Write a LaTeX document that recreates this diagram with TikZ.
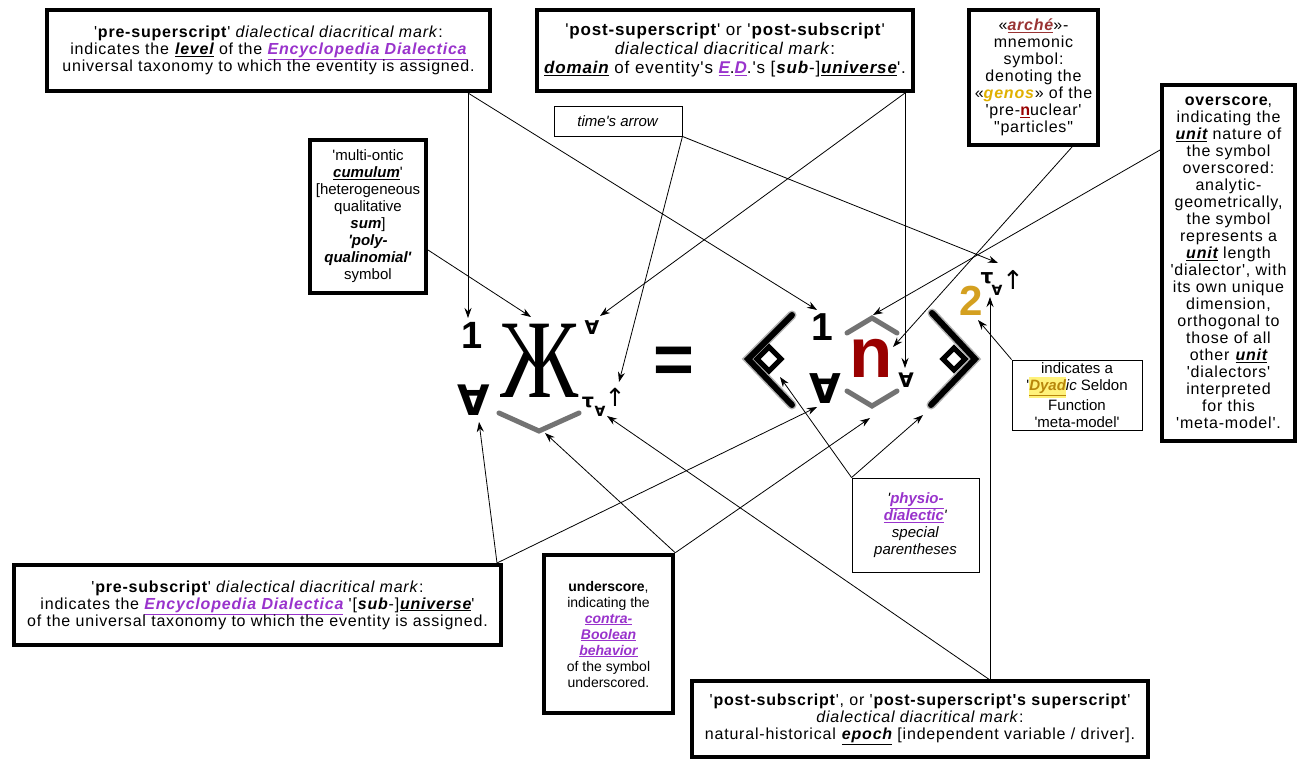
\documentclass[tikz,border=0pt]{standalone}
\usepackage{fontspec}
\setmainfont{Liberation Sans}[Ligatures=TeXOff]
\newfontfamily\zhefont{Liberation Serif}
\newfontfamily\symfont{DejaVu Sans}
\usetikzlibrary{arrows.meta}
\definecolor{dialpurple}{HTML}{9933CC}
\definecolor{nred}{HTML}{990000}
\definecolor{twogold}{HTML}{D4A020}
\definecolor{archered}{HTML}{993333}
\definecolor{genosgold}{HTML}{E0B000}
\definecolor{dyadgold}{HTML}{B8860B}
\definecolor{dyadlight}{HTML}{FFF27A}
\newcommand{\bu}[1]{\textbf{\textit{\underline{#1}}}}
\newcommand{\bi}[1]{\textbf{\textit{#1}}}
\newcommand{\pbu}[1]{\textcolor{dialpurple}{\bu{#1}}}

\begin{document}
\begin{tikzpicture}[x=1pt, y=-1pt,
    bigbox/.style={draw, line width=4.5pt, fill=white, align=center, inner sep=0pt},
    thinbox/.style={draw, line width=0.9pt, fill=white, align=center, inner sep=0pt},
    widetext/.style={font=\fontsize{16}{17}\selectfont\addfontfeatures{LetterSpace=5}},
    plaintext/.style={font=\fontsize{15}{17}\selectfont},
    smalltext/.style={font=\fontsize{14}{16}\selectfont},
    pointer/.style={-{Stealth[length=10pt, width=7pt]}, line width=0.8pt},
    glyph/.style={anchor=base, inner sep=0pt, font=\bfseries\fontsize{#1}{#1}\selectfont},
    smallglyph/.style={anchor=base, inner sep=0pt, font=\symfont\bfseries\fontsize{#1}{#1}\selectfont},
    parenline/.style={line width=6pt, line join=miter, line cap=round},
    scoreline/.style={line width=5pt, black!55, line cap=round},
  ]
  \useasboundingbox[fill=white] (0,0) rectangle (1298,762);

  % boxes
  \node[bigbox, widetext, minimum width=443pt, minimum height=81pt] (preSup) at (268.5,50.5)
    {'\textbf{pre-superscript}' \textit{dialectical diacritical mark}:\\
     indicates the \bu{level} of the \pbu{Encyclopedia Dialectica}\\
     universal taxonomy to which the eventity is assigned.};
  \node[bigbox, minimum width=376pt, minimum height=81pt,
    font=\fontsize{17}{19}\selectfont\addfontfeatures{LetterSpace=5}] (postSup) at (725,50.5)
    {'\textbf{post-superscript}' or '\textbf{post-subscript}'\\
     \textit{dialectical diacritical mark}:\\
     \bu{domain} of eventity's \pbu{E}.\pbu{D}.'s [\bi{sub}-]\bu{universe}'.};
  \node[bigbox, widetext, minimum width=129pt, minimum height=135pt] (arche) at (1033.5,77.5)
    {«\textcolor{archered}{\bu{arché}}»-\\mnemonic\\symbol:\\denoting the\\
     «\textcolor{genosgold}{\bi{genos}}» of the\\'pre-\textcolor{nred}{\textbf{\underline{n}}}uclear'\\"particles"};
  \node[bigbox, widetext, minimum width=133pt, minimum height=356pt] (overscore) at (1228.5,263)
    {\textbf{overscore},\\indicating the\\\bu{unit} nature of\\the symbol\\overscored:\\
     analytic-\\geometrically,\\the symbol\\represents a\\\bu{unit} length\\
     'dialector', with\\its own unique\\dimension,\\orthogonal to\\those of all\\
     other \bu{unit}\\'dialectors'\\interpreted\\for this\\'meta-model'.};
  \node[bigbox, plaintext, minimum width=116pt, minimum height=153pt] (cumulum) at (368,216.5)
    {'multi-ontic\\\bu{cumulum}'\\{}[heterogeneous\\qualitative\\\bi{sum}]\\
     \bi{'poly-}\\\bi{qualinomial'}\\symbol};
  \node[thinbox, plaintext, minimum width=128pt, minimum height=30pt] (timeArrow) at (618,121)
    {\textit{time's arrow}};
  \node[thinbox, plaintext, minimum width=130pt, minimum height=70pt] (dyadic) at (1077,395)
    {indicates a\\'\colorbox{dyadlight}{\kern-3pt\textcolor{dyadgold}{\bu{Dyad}}\kern-3pt}\textit{ic} Seldon\\
     Function\\'meta-model'};
  \node[thinbox, plaintext, minimum width=127pt, minimum height=94pt] (physio) at (915.5,525)
    {\textit{'\pbu{physio-}}\\\textit{\pbu{dialectic}'}\\\textit{special}\\\textit{parentheses}};
  \node[bigbox, widetext, minimum width=487pt, minimum height=80pt] (preSub) at (257.5,605)
    {'\textbf{pre-subscript}' \textit{dialectical diacritical mark}:\\
     indicates the \pbu{Encyclopedia Dialectica} '[\bi{sub}-]\bu{universe}'\\
     of the universal taxonomy to which the eventity is assigned.};
  \node[bigbox, smalltext, minimum width=129pt, minimum height=158pt] (underscore) at (608.5,634)
    {\textbf{underscore},\\indicating the\\\pbu{contra-}\\\pbu{Boolean}\\\pbu{behavior}\\
     of the symbol\\underscored.};
  \node[bigbox, widetext, minimum width=456pt, minimum height=76pt] (epoch) at (920,719)
    {'\textbf{post-subscript}', or '\textbf{post-superscript's superscript}'\\
     \textit{dialectical diacritical mark}:\\
     natural-historical \bu{epoch} [independent variable / driver].};

  % the formula
  \node[glyph=38] (oneL) at (472,348) {1};
  \node[smallglyph=42] (forallL) at (474,415) {∀};
  \node[anchor=base, inner sep=0pt, xscale=0.78, font=\zhefont\fontsize{112}{112}\selectfont] (zhe) at (540,397) {Ж};
  \draw[scoreline] (499,413) -- (539,431) -- (579,413);
  \node[smallglyph=19] (forallZhSup) at (592,334) {∀};
  \node[smallglyph=19] (tauZh) at (588,407) {τ};
  \node[smallglyph=14] (forallZhSub) at (600,416) {∀};
  \node[anchor=base, inner sep=0pt, font=\symfont\fontsize{25}{25}\selectfont] (upZh) at (615,406) {↑};
  \node[glyph=70] (equals) at (674,383) {=};
  \draw[parenline, black!30, line width=9pt] (792,315) -- (748,359) -- (792,405);
  \draw[parenline] (792,315) -- (748,359) -- (792,405);
  \draw[parenline, line width=5pt] (757,359) -- (769,347) -- (781,359) -- (769,371) -- cycle;
  \node[glyph=39] (oneIn) at (822,340) {1};
  \node[smallglyph=41] (forallIn) at (825,403) {∀};
  \draw[scoreline] (847,333) -- (872,318) -- (897,333);
  \node[glyph=71, text=nred] (nGlyph) at (871,377) {n};
  \draw[scoreline] (847,391) -- (872,406) -- (897,391);
  \node[smallglyph=20] (forallN) at (906,387) {∀};
  \draw[parenline, black!30, line width=9pt] (932,313) -- (975,359) -- (931,405);
  \draw[parenline] (932,313) -- (975,359) -- (931,405);
  \draw[parenline, line width=5pt] (943,359) -- (954,348) -- (965,359) -- (954,370) -- cycle;
  \node[glyph=42, text=twogold] (two) at (971,315) {2};
  \node[smallglyph=20] (tauTwo) at (987,283) {τ};
  \node[smallglyph=14] (forallTwo) at (997,295) {∀};
  \node[anchor=base, inner sep=0pt, font=\symfont\fontsize{26}{26}\selectfont] (upTwo) at (1013,289) {↑};

  % feet of the pointers
  \coordinate (preSupFoot) at (468,93);
  \coordinate (postSupFoot) at (905,93);
  \coordinate (cumulumFoot) at (428,250);
  \coordinate (archeFoot) at (1072,147);
  \coordinate (overFoot) at (1160,150);
  \coordinate (epochFoot) at (990,680);
  \coordinate (preSubFoot) at (497,563);

  \draw[pointer] (preSupFoot) -- (468,318);
  \draw[pointer] (preSupFoot) -- (817,310);
  \draw[pointer] (postSupFoot) -- (905,368);
  \draw[pointer] (postSupFoot) -- (600,316);
  \draw[pointer] (timeArrow.south east) -- (619,382);
  \draw[pointer] (timeArrow.south east) -- (998,263);
  \draw[pointer] (cumulumFoot) -- (531,317);
  \draw[pointer] (archeFoot) -- (893,347);
  \draw[pointer] (overFoot) -- (873,315);
  \draw[pointer] (dyadic.north west) -- (978,320);
  \draw[pointer] (epochFoot) -- (990,297);
  \draw[pointer] (epochFoot) -- (607,416);
  \draw[pointer] (physio.north west) -- (780,377);
  \draw[pointer] (physio.north west) -- (923,415);
  \draw[pointer] (preSubFoot) -- (479,422);
  \draw[pointer] (preSubFoot) -- (817,407);
  \draw[pointer] (underscore.north east) -- (545,433);
  \draw[pointer] (underscore.north east) -- (870,418);
\end{tikzpicture}
\end{document}
